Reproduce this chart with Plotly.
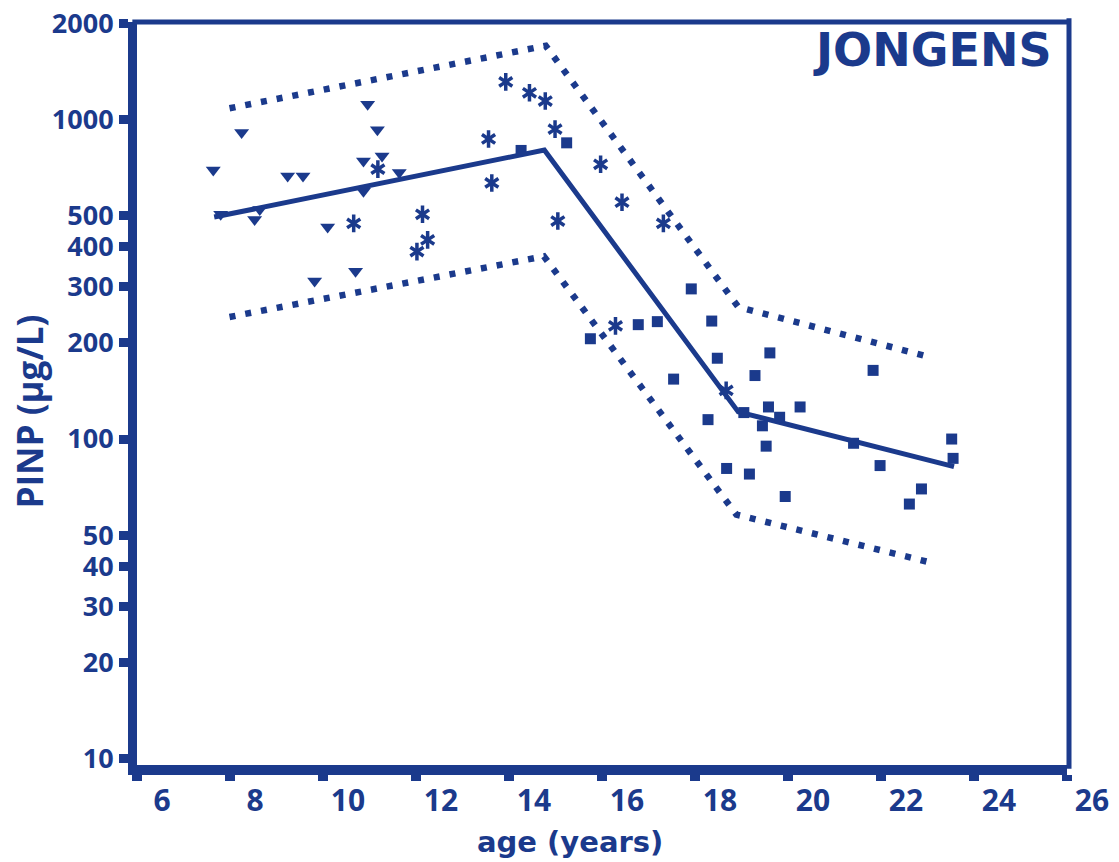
import plotly.graph_objects as go

NAVY = "#1b3a8c"

# ---- data ----
tri_age = [8.25, 7.64, 9.24, 9.57, 10.96, 11.17, 10.87, 11.27, 11.64, 10.87,
           7.80, 8.64, 8.53, 10.10, 10.70, 9.82]
tri_pinp = [910, 695, 666, 666, 1115, 929, 741, 768, 682, 596,
            505, 523, 486, 461, 335, 312]

ast_age = [11.18, 10.66, 12.14, 12.25, 12.02, 13.93, 14.44, 14.78, 14.99, 13.56,
           13.63, 15.05, 15.97, 16.43, 17.32, 16.29, 18.67]
ast_pinp = [699, 473, 505, 420, 386, 1311, 1212, 1142, 933, 869,
            633, 481, 724, 551, 473, 226, 142]

sq_age = [14.26, 15.24, 17.92, 16.78, 17.19, 18.36, 15.75, 18.48, 19.61, 17.54,
          19.29, 21.83, 19.58, 20.26, 19.05, 19.82, 19.45, 18.28, 21.41, 23.52,
          23.55, 19.53, 21.98, 18.68, 19.17, 22.87, 22.61, 19.94]
sq_pinp = [800, 845, 295, 228, 233, 234, 206, 179, 186, 154,
           158, 164, 126, 126, 121, 117, 110, 115, 97, 100,
           87, 95, 82.6, 80.9, 77.7, 69.8, 62.6, 66.1]

mean_age = [7.66, 14.76, 18.93, 23.57]
mean_pinp = [495, 802, 121.6, 82]

upper_age = [7.99, 14.79, 18.93, 23.08]
upper_pinp = [1084, 1701, 259, 180]

lower_age = [7.99, 14.75, 18.89, 23.12]
lower_pinp = [241, 373, 58.0, 40.9]

x_ticks = [6, 8, 10, 12, 14, 16, 18, 20, 22, 24, 26]
y_ticks = [10, 20, 30, 40, 50, 100, 200, 300, 400, 500, 1000, 2000]

fig = go.Figure()

dot_line = dict(color=NAVY, width=6.5, dash="6px,10px")
fig.add_trace(go.Scatter(x=upper_age, y=upper_pinp, mode="lines", line=dot_line))
fig.add_trace(go.Scatter(x=lower_age, y=lower_pinp, mode="lines", line=dot_line))
fig.add_trace(go.Scatter(x=mean_age, y=mean_pinp, mode="lines",
                         line=dict(color=NAVY, width=5)))

fig.add_trace(go.Scatter(x=tri_age, y=tri_pinp, mode="markers",
                         marker=dict(symbol="triangle-down", size=13, color=NAVY,
                                     line=dict(width=0))))
fig.add_trace(go.Scatter(x=sq_age, y=sq_pinp, mode="markers",
                         marker=dict(symbol="square", size=11, color=NAVY,
                                     line=dict(width=0))))
for sym in ["y-up-open", "y-down-open"]:
    fig.add_trace(go.Scatter(x=ast_age, y=ast_pinp, mode="markers",
                             marker=dict(symbol=sym, size=11, color=NAVY,
                                         line=dict(width=3.5, color=NAVY))))

xtick_font = dict(family="Open Sans", size=30, color=NAVY, weight="bold")
ytick_font = dict(family="Open Sans", size=27, color=NAVY, weight="bold")

fig.update_layout(
    width=1119, height=862,
    margin=dict(l=137, r=52, t=22, b=97, autoexpand=False),
    paper_bgcolor="white", plot_bgcolor="white",
    showlegend=False,
    xaxis=dict(range=[6, 26], tickvals=x_ticks, ticktext=[str(v) for v in x_ticks],
               showgrid=False, zeroline=False, showline=True, linecolor=NAVY,
               linewidth=10, ticks="outside", ticklen=6, tickwidth=10,
               tickcolor=NAVY, tickfont=xtick_font, ticklabelshift=25,
               ticklabelstandoff=-6, automargin=False),
    yaxis=dict(type="log", range=[0.98, 3.305], tickvals=y_ticks,
               ticktext=[str(v) for v in y_ticks],
               showgrid=False, zeroline=False, showline=True, linecolor=NAVY,
               linewidth=9, ticks="outside", ticklen=9, tickwidth=9,
               tickcolor=NAVY, tickfont=ytick_font, automargin=False),
    shapes=[
        dict(type="line", xref="paper", yref="paper", x0=-0.005, x1=1.004,
             ysizemode="pixel", yanchor=1, y0=0, y1=0,
             line=dict(color=NAVY, width=5)),
        dict(type="line", yref="paper", xref="paper", y0=-0.005, y1=1.005,
             xsizemode="pixel", xanchor=1, x0=2, x1=2,
             line=dict(color=NAVY, width=5)),
    ],
    annotations=[
        dict(text="age (years)", xref="paper", yref="paper", x=0.4656, y=-0.104,
             showarrow=False, xanchor="center", yanchor="middle",
             font=dict(family="DejaVu Sans", size=29, color=NAVY, weight="bold")),
        dict(text="PINP (µg/L)", xref="paper", yref="paper", x=-0.116, y=0.476,
             showarrow=False, xanchor="center", yanchor="middle", textangle=-90,
             font=dict(family="Open Sans", size=35, color=NAVY, weight="bold")),
        dict(text="JONGENS", xref="paper", yref="paper", x=0.855, y=0.962,
             showarrow=False, xanchor="center", yanchor="middle",
             font=dict(family="DejaVu Sans", size=46, color=NAVY, weight="bold")),
    ],
)

fig.write_html("out.html")
